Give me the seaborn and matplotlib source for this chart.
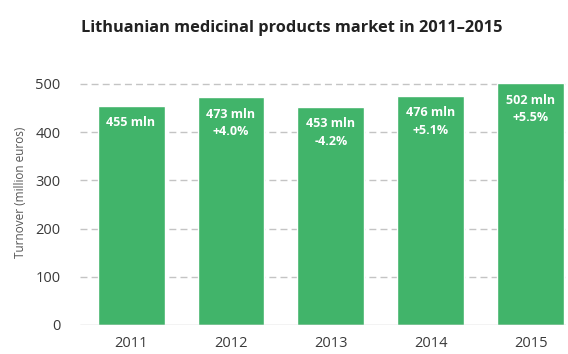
import matplotlib
matplotlib.use("Agg")
import matplotlib.pyplot as plt
import seaborn as sns
import pandas as pd

years = ["2011", "2012", "2013", "2014", "2015"]
turnover = [455, 473, 453, 476, 502]
growth = [None, "+4.0%", "-4.2%", "+5.1%", "+5.5%"]

df = pd.DataFrame({"year": years, "turnover": turnover})

sns.set_theme(style="white")
plt.rcParams["font.family"] = ["Open Sans", "DejaVu Sans"]

fig = plt.figure(figsize=(5.68, 3.54), dpi=100)
ax = fig.add_axes([0.141, 0.082, 0.855, 0.708])

sns.barplot(data=df, x="year", y="turnover", color="#41B46A", saturation=1,
            width=0.67, ax=ax, zorder=3)

ax.set_ylim(0, 520)
ax.set_xlim(-0.51, 4.35)
ax.set_yticks([0, 100, 200, 300, 400, 500])
for v in [100, 200, 300, 400, 500]:
    ax.axhline(v, color="#C4C4C4", lw=1.0, ls=(0, (5, 3)), zorder=1)
ax.axhline(0, color="#C4C4C4", lw=1.0, zorder=4)

for s in ax.spines.values():
    s.set_visible(False)

ax.tick_params(axis="y", labelsize=10.5, colors="#3A3A3A", length=0, pad=14)
ax.tick_params(axis="x", labelsize=10.5, colors="#3A3A3A", length=0, pad=8)
ax.set_xlabel("")
ax.set_ylabel("Turnover (million euros)", fontsize=8.5, color="#555555")
ax.yaxis.set_label_coords(-0.11, 0.53)

for i, (val, g) in enumerate(zip(turnover, growth)):
    text = f"{val} mln" if g is None else f"{val} mln\n{g}"
    ax.text(i, val - 22, text, ha="center", va="top", color="white",
            fontsize=9, fontweight="bold", linespacing=1.45, zorder=5)

fig.text(0.513, 0.922, "Lithuanian medicinal products market in 2011\u20132015",
         ha="center", va="center", fontsize=11.8, fontweight="bold", color="#222222")

fig.savefig("out.png", dpi=100)
